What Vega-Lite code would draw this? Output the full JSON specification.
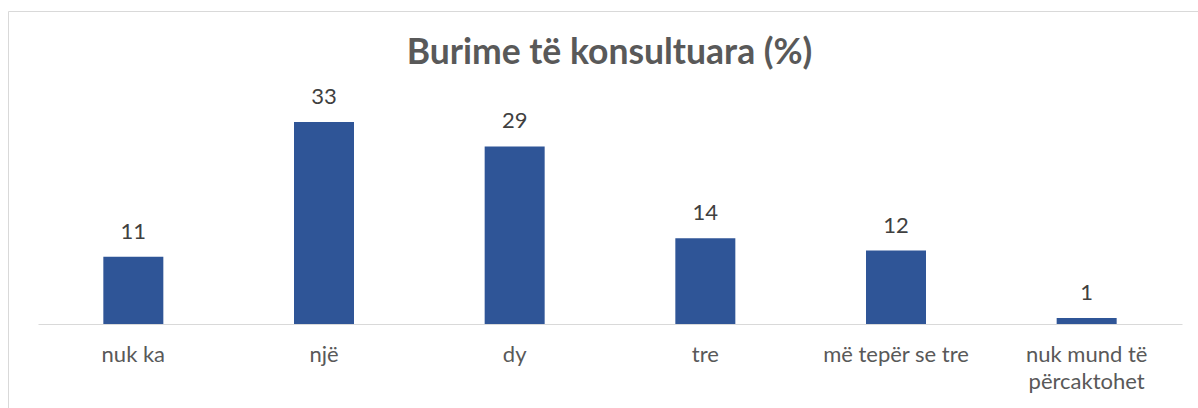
{
  "$schema": "https://vega.github.io/schema/vega-lite/v6.json",
  "width": 1203,
  "height": 410,
  "autosize": {"type": "none"},
  "padding": {"left": 8, "top": 11, "right": 0, "bottom": 0},
  "background": "white",
  "config": {
    "view": {"stroke": "#D9D9D9", "strokeWidth": 1},
    "font": "Lato"
  },
  "title": {
    "text": "Burime të konsultuara (%)",
    "font": "Lato",
    "fontSize": 35.5,
    "fontWeight": "bold",
    "color": "#595959",
    "anchor": "middle",
    "frame": "group",
    "baseline": "alphabetic",
    "offset": -55,
    "dy": 33
  },
  "data": {
    "values": [
      {"category": "nuk ka", "value": 11},
      {"category": "një", "value": 33},
      {"category": "dy", "value": 29},
      {"category": "tre", "value": 14},
      {"category": "më tepër se tre", "value": 12},
      {"category": "nuk mund të përcaktohet", "value": 1}
    ]
  },
  "encoding": {
    "x": {
      "field": "category",
      "type": "nominal",
      "sort": null,
      "scale": {"range": [30, 1174], "paddingInner": 0, "paddingOuter": 0},
      "axis": {
        "title": null,
        "labelAngle": 0,
        "ticks": false,
        "grid": false,
        "domainColor": "#D9D9D9",
        "domainWidth": 1,
        "labelColor": "#595959",
        "labelFont": "Lato",
        "labelFontSize": 22,
        "labelPadding": 20,
        "labelLineHeight": 27,
        "labelLimit": 300,
        "offset": -97,
        "labelExpr": "datum.value == 'nuk mund të përcaktohet' ? ['nuk mund të', 'përcaktohet'] : datum.value"
      }
    },
    "y": {
      "field": "value",
      "type": "quantitative",
      "scale": {"domain": [0, 33], "range": [313, 111], "nice": false},
      "axis": null
    }
  },
  "layer": [
    {"mark": {"type": "bar", "size": 60, "color": "#2F5597"}},
    {
      "mark": {
        "type": "text",
        "dy": -18,
        "baseline": "alphabetic",
        "align": "center",
        "font": "Lato",
        "fontSize": 22,
        "color": "#404040"
      },
      "encoding": {"text": {"field": "value", "type": "quantitative"}}
    }
  ]
}
